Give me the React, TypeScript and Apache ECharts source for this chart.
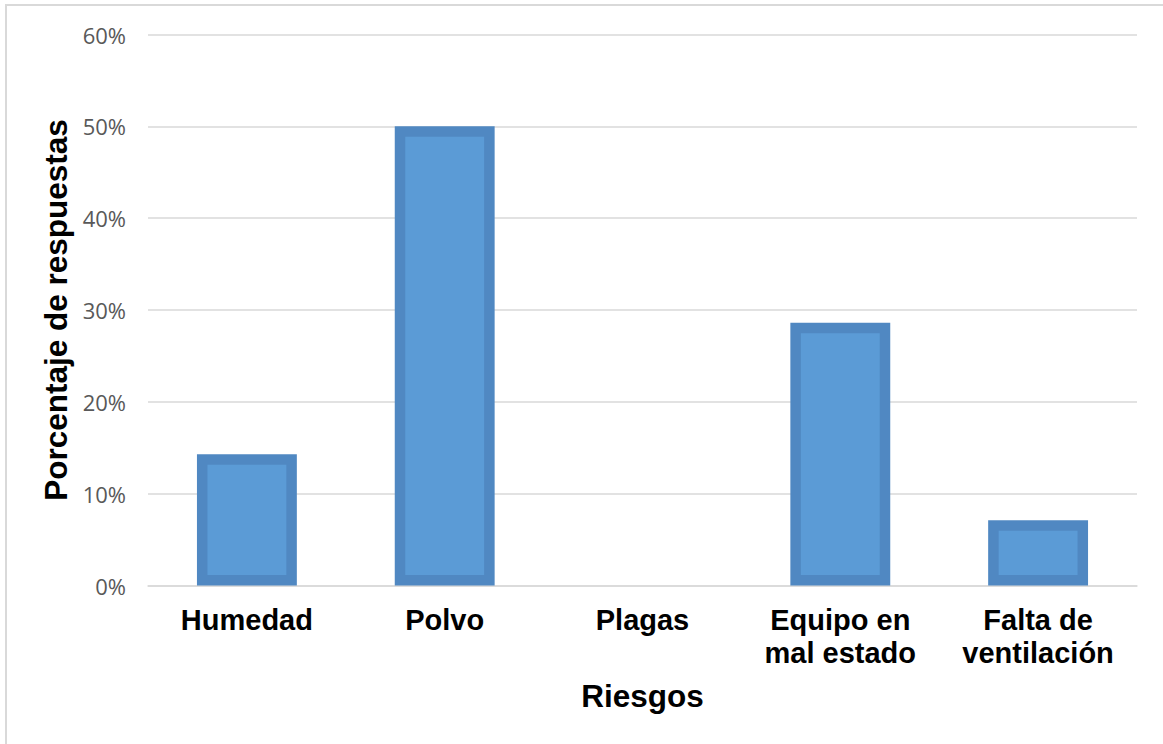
import React, { useEffect, useRef } from "react";
import * as echarts from "echarts";

// Risk categories and share of responses (%)
const categories = ["Humedad", "Polvo", "Plagas", "Equipo en mal estado", "Falta de ventilación"];
const values = [14.3, 50, 0, 28.6, 7.1];
const yTicks = { min: 0, max: 60, interval: 10 };

// Split long category names onto two lines
function wrapLabel(name: string): string {
  const words = name.split(" ");
  if (words.length < 3) return name;
  return words.slice(0, 2).join(" ") + "\n" + words.slice(2).join(" ");
}

export default function App() {
  const ref = useRef<HTMLDivElement>(null);

  useEffect(() => {
    if (!ref.current) return;
    const chart = echarts.init(ref.current, null, { renderer: "svg" });
    const barRatio = 0.505;
    const frame = 10.5;

    chart.setOption({
      animation: false,
      backgroundColor: "#ffffff",
      graphic: [
        {
          type: "rect",
          z: -10,
          shape: { x: 6, y: 5, width: 1200, height: 800 },
          style: { fill: "none", stroke: "#d9d9d9", lineWidth: 2 },
        },
      ],
      grid: { left: 148, right: 26, top: 34.5, bottom: 158.5 },
      xAxis: {
        type: "category",
        data: categories,
        axisLine: { show: true, lineStyle: { color: "#d9d9d9", width: 1.5 } },
        axisTick: { show: false },
        axisLabel: {
          interval: 0,
          margin: 18,
          color: "#000000",
          fontFamily: "Liberation Sans, Arial, sans-serif",
          fontWeight: "bold",
          fontSize: 29,
          lineHeight: 33,
          formatter: (v: string) => wrapLabel(v),
        },
        name: "Riesgos",
        nameLocation: "middle",
        nameGap: 94,
        nameTextStyle: {
          color: "#000000",
          fontFamily: "Liberation Sans, Arial, sans-serif",
          fontWeight: "bold",
          fontSize: 31.5,
        },
      },
      yAxis: {
        type: "value",
        min: yTicks.min,
        max: yTicks.max,
        interval: yTicks.interval,
        axisLine: { show: false },
        axisTick: { show: false },
        splitLine: { lineStyle: { color: "#d9d9d9", width: 1.5 } },
        axisLabel: {
          margin: 22,
          color: "#595959",
          fontFamily: "Open Sans, sans-serif",
          fontSize: 22,
          formatter: "{value}%",
        },
        name: "Porcentaje de respuestas",
        nameLocation: "middle",
        nameGap: 71,
        nameTextStyle: {
          color: "#000000",
          fontFamily: "Liberation Sans, Arial, sans-serif",
          fontWeight: "bold",
          fontSize: 31.5,
        },
      },
      series: [
        {
          type: "custom",
          encode: { x: 0, y: 1 },
          data: values.map((v, i) => [i, v]),
          renderItem: (params: any, api: any) => {
            const v = api.value(1);
            if (!v) return { type: "group", children: [] };
            const top = api.coord([api.value(0), v]);
            const base = api.coord([api.value(0), 0]);
            const w = api.size([1, 0])[0] * barRatio;
            const x = top[0] - w / 2;
            const h = base[1] - top[1];
            const f = Math.min(frame, h / 2 - 1);
            return {
              type: "group",
              children: [
                {
                  type: "rect",
                  shape: { x, y: top[1], width: w, height: h },
                  style: { fill: "#5088c2" },
                },
                {
                  type: "rect",
                  shape: { x: x + f, y: top[1] + f, width: w - 2 * f, height: h - 2 * f },
                  style: { fill: "#5b9bd6" },
                },
              ],
            };
          },
        },
      ],
    });

    return () => chart.dispose();
  }, []);

  return (
    <div
      ref={ref}
      style={{ position: "absolute", left: 0, top: 0, width: 1163, height: 744 }}
    />
  );
}
